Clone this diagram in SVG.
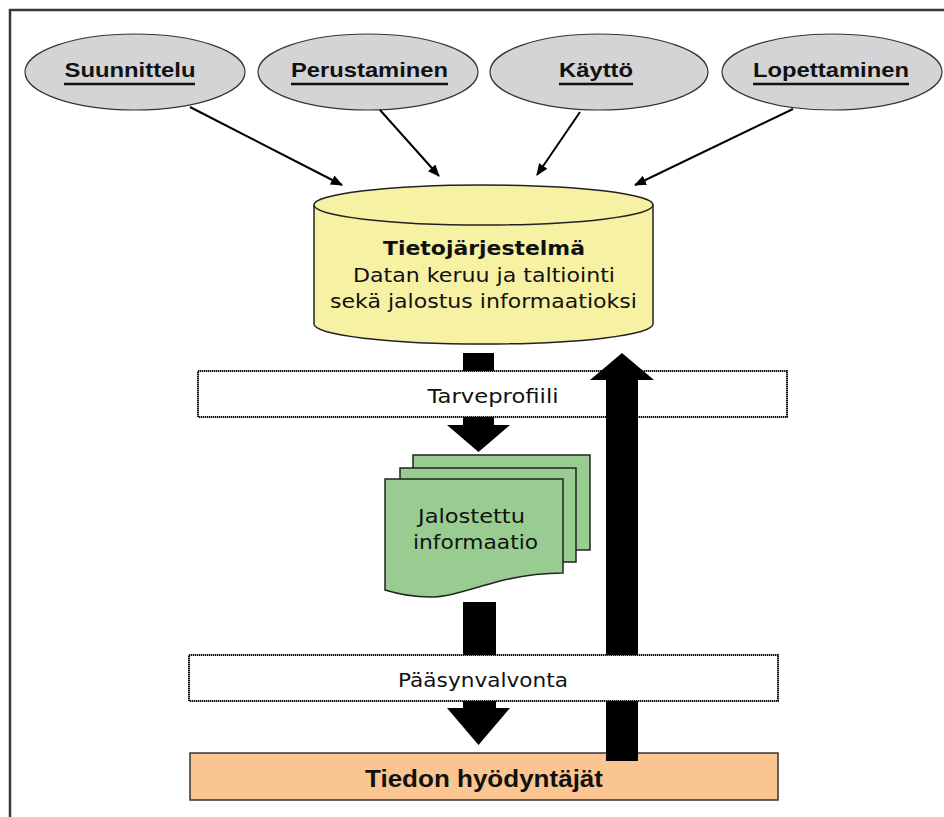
<svg xmlns="http://www.w3.org/2000/svg" width="944" height="817" viewBox="0 0 944 817">
<defs>
<marker id="ah" viewBox="0 0 12 10" refX="11" refY="5" markerWidth="12" markerHeight="10" markerUnits="userSpaceOnUse" orient="auto">
<path d="M0,0 L12,5 L0,10 Z" fill="#000"/>
</marker>
<style>
.ell{fill:#d4d4d6;stroke:#333;stroke-width:1.2}
.elbl{font-family:"Liberation Sans",Arial,sans-serif;font-weight:bold;font-size:21px;fill:#111;text-anchor:middle}
.ul{stroke:#111;stroke-width:2.5}
.conn{stroke:#000;stroke-width:2;fill:none;marker-end:url(#ah)}
.tah{font-family:"DejaVu Sans",Verdana,sans-serif;font-size:19px;fill:#111;text-anchor:middle}
.dot{fill:#fff;stroke:#111;stroke-width:2;stroke-dasharray:1.4 0.6}
.blk{fill:#000}
.doc{fill:#99cc90;stroke:#222;stroke-width:1.5}
</style>
</defs>
<rect width="944" height="817" fill="#fff"/>
<path d="M10,817 V10 H944" fill="none" stroke="#383838" stroke-width="2.5"/>

<g id="suunnittelu">
<ellipse class="ell" cx="135" cy="72" rx="110" ry="38"/>
<text class="elbl" x="130" y="77" textLength="131" lengthAdjust="spacingAndGlyphs">Suunnittelu</text>
<line class="ul" x1="64" y1="84" x2="195" y2="84"/>
</g>
<g id="perustaminen">
<ellipse class="ell" cx="368" cy="72" rx="110" ry="38"/>
<text class="elbl" x="369.5" y="77" textLength="157" lengthAdjust="spacingAndGlyphs">Perustaminen</text>
<line class="ul" x1="291" y1="84" x2="448" y2="84"/>
</g>
<g id="kaytto">
<ellipse class="ell" cx="599" cy="72" rx="109" ry="38"/>
<text class="elbl" x="596" y="77" textLength="74" lengthAdjust="spacingAndGlyphs">Käyttö</text>
<line class="ul" x1="559" y1="84" x2="633" y2="84"/>
</g>
<g id="lopettaminen">
<ellipse class="ell" cx="832" cy="72" rx="110" ry="38"/>
<text class="elbl" x="831" y="77" textLength="156" lengthAdjust="spacingAndGlyphs">Lopettaminen</text>
<line class="ul" x1="753" y1="84" x2="909" y2="84"/>
</g>

<g id="connectors">
<line class="conn" x1="190" y1="107" x2="342" y2="185"/>
<line class="conn" x1="380" y1="110" x2="439" y2="176"/>
<line class="conn" x1="580" y1="112" x2="537" y2="175"/>
<line class="conn" x1="793" y1="109" x2="635" y2="185"/>
</g>

<g id="tietojarjestelma">
<path d="M314,205 A169.5,20 0 0 1 653,205 V324 A169.5,20 0 0 1 314,324 Z" fill="#f6f1a3" stroke="#222" stroke-width="1.5"/>
<path d="M314,205 A169.5,20 0 0 0 653,205" fill="none" stroke="#222" stroke-width="1.5"/>
<text class="tah" x="484" y="255" font-weight="bold" textLength="202" lengthAdjust="spacingAndGlyphs">Tietojärjestelmä</text>
<text class="tah" x="484" y="282" textLength="262" lengthAdjust="spacingAndGlyphs">Datan keruu ja taltiointi</text>
<text class="tah" x="483.5" y="308" textLength="307" lengthAdjust="spacingAndGlyphs">sekä jalostus informaatioksi</text>
</g>

<g id="tiedon-hyodyntajat">
<rect x="190" y="753" width="588" height="47" fill="#fac591" stroke="#333" stroke-width="1.5"/>
<text x="484" y="787" font-family="Liberation Sans, Arial, sans-serif" font-weight="bold" font-size="23" fill="#111" text-anchor="middle" textLength="238" lengthAdjust="spacingAndGlyphs">Tiedon hyödyntäjät</text>
</g>

<g id="flow-down-1">
<path class="blk" d="M463,353 H494 V425 H510 L478.5,452 L447,425 H463 Z"/>
</g>

<g id="tarveprofiili">
<rect class="dot" x="198" y="371" width="589" height="46"/>
<text class="tah" x="493" y="403" font-size="21" textLength="131" lengthAdjust="spacingAndGlyphs">Tarveprofiili</text>
</g>

<g id="flow-up">
<path class="blk" d="M622,353 L654,380 H638 V761 H606 V380 H590 Z"/>
</g>

<g id="flow-down-2">
<path class="blk" d="M463,602 H496 V708 H510 L478.5,745 L447,708 H463 Z"/>
</g>

<g id="paasynvalvonta">
<rect class="dot" x="189" y="655" width="589" height="46"/>
<text class="tah" x="483" y="687" font-size="21" textLength="170" lengthAdjust="spacingAndGlyphs">Pääsynvalvonta</text>
</g>

<g id="jalostettu-informaatio">
<rect class="doc" x="413" y="455" width="177" height="95"/>
<rect class="doc" x="400" y="468" width="176" height="94"/>
<path class="doc" d="M385,479 H563 V573 C540,573 520,576 500,581 C470,589 450,597 430,597 C410,597 398,594 385,590 Z"/>
<text class="tah" x="471.5" y="523" font-size="21" textLength="107" lengthAdjust="spacingAndGlyphs">Jalostettu</text>
<text class="tah" x="475.5" y="549" font-size="21" textLength="125" lengthAdjust="spacingAndGlyphs">informaatio</text>
</g>
</svg>
